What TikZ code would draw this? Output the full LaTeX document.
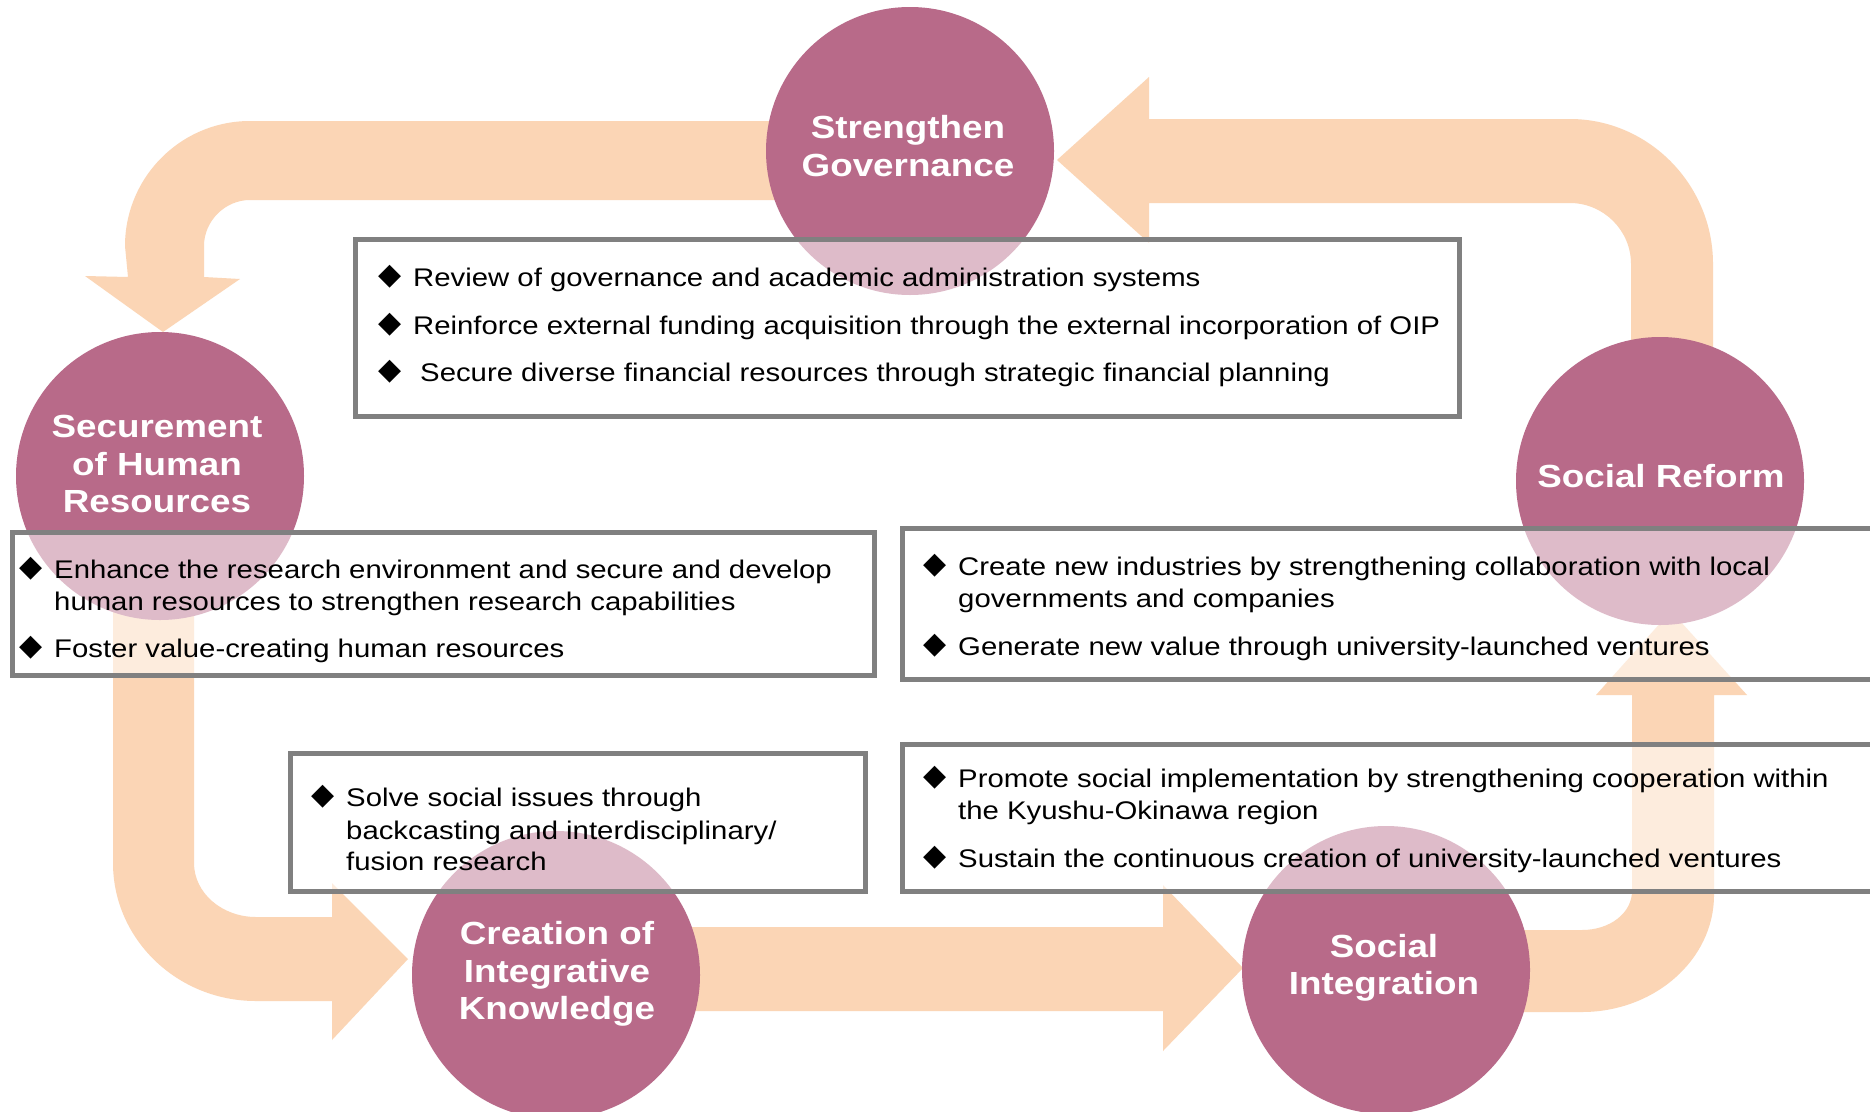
\documentclass[tikz,border=0pt]{standalone}
\usepackage{fontspec}
\setmainfont{Liberation Sans}[FakeStretch=1.15]
\newfontfamily\symfont{DejaVu Sans}
\definecolor{circc}{RGB}{184,106,137}
\definecolor{arrowc}{RGB}{251,213,181}
\definecolor{boxgray}{RGB}{128,128,128}
\begin{document}
\begin{tikzpicture}[x=1pt,y=-1pt,
  blockarrow/.style={fill=arrowc,draw=none},
  circ/.style={circle,fill=circc,draw=none,minimum size=288pt,inner sep=0pt},
  infobox/.style={rectangle,draw=boxgray,line width=5pt,fill=white,fill opacity=0.55,inner sep=0pt,anchor=north west},
  item/.style={font=\fontsize{25.5}{32}\selectfont,inner sep=0pt,anchor=base west,text=black},
  dia/.style={font=\symfont\fontsize{30}{30}\selectfont,inner sep=0pt,text=black},
  lbl/.style={font=\bfseries\fontsize{32}{37.5}\selectfont,text=white,align=center,inner sep=0pt}]
\useasboundingbox (0,0) rectangle (1870,1111);
\fill[white] (0,0) rectangle (1870,1111);

% block arrows
% A: Strengthen Governance -> Securement of Human Resources
\path[blockarrow] (910,121) -- (250,121)
  .. controls (181,121) and (125,177) .. (125,246)
  -- (128,277) -- (85,276) -- (163,332) -- (240,279) -- (204,277) -- (204,246)
  .. controls (204,221) and (225,200) .. (250,200) -- (910,200) -- cycle;
% B: Social Reform -> Strengthen Governance
\path[blockarrow] (1057,160) -- (1149,77) -- (1149,119) -- (1570,119)
  .. controls (1648,119) and (1713,184) .. (1713,264)
  -- (1713,481) -- (1631,481) -- (1631,264)
  .. controls (1631,230) and (1603,203) .. (1570,203)
  -- (1149,203) -- (1149,243) -- cycle;
% C: Securement -> Creation of Integrative Knowledge
\path[blockarrow] (113,476) -- (113,863)
  .. controls (113,939) and (177,1001) .. (256,1001)
  -- (332,1001) -- (332,1040) -- (408,959) -- (332,883) -- (332,917) -- (256,917)
  .. controls (222,917) and (194,893) .. (194,863)
  -- (194,476) -- cycle;
% D: Creation -> Social Integration
\path[blockarrow] (556,927) -- (1163,927) -- (1163,885) -- (1243,968)
  -- (1163,1051) -- (1163,1011) -- (556,1011) -- cycle;
% E: Social Integration -> Social Reform
\path[blockarrow] (1386,930) -- (1582,930)
  .. controls (1610,930) and (1632,913) .. (1632,891)
  -- (1632,695) -- (1596,695) -- (1671,611) -- (1747,695) -- (1714,695) -- (1714,895)
  .. controls (1714,960) and (1654,1012) .. (1582,1012)
  -- (1386,1012) -- cycle;

% circles
\node[circ] (gov) at (910,151) {};
\node[circ] (hum) at (160,476) {};
\node[circ] (ref) at (1660,481) {};
\node[circ] (cre) at (556,975) {};
\node[circ] (int) at (1386,970) {};

% boxes
\node[infobox,minimum width=1104pt,minimum height=177pt] (b1) at (353,237) {};
\node[infobox,minimum width=862pt,minimum height=143pt] (b2) at (10,530) {};
\node[infobox,minimum width=1000pt,minimum height=151pt] (b3) at (900,526) {};
\node[infobox,minimum width=575pt,minimum height=138pt] (b4) at (288,751) {};
\node[infobox,minimum width=1000pt,minimum height=147pt] (b5) at (900,742) {};

% circle labels
\node[lbl] (lgov) at (908,146) {Strengthen\\Governance};
\node[lbl] (lhum) at (157,464) {Securement\\of Human\\Resources};
\node[lbl] (lref) at (1661,476) {Social Reform};
\node[lbl] (lcre) at (557,974) {Creation of\\Integrative\\Knowledge};
\node[lbl] (lint) at (1384,968) {Social\\Integration};

% box 1
\node[dia] (d11) at (390,277) {◆};
\node[item] (t11) at (413,286) {Review of governance and academic administration systems};
\node[dia] (d12) at (390,325) {◆};
\node[item] (t12) at (413,334) {Reinforce external funding acquisition through the external incorporation of OIP};
\node[dia] (d13) at (390,372) {◆};
\node[item] (t13) at (420,381) {Secure diverse financial resources through strategic financial planning};

% box 2
\node[dia] (d21) at (31,569) {◆};
\node[item] (t21) at (54,578) {Enhance the research environment and secure and develop};
\node[item] (t22) at (54,610) {human resources to strengthen research capabilities};
\node[dia] (d22) at (31,648) {◆};
\node[item] (t23) at (54,657) {Foster value-creating human resources};

% box 3
\node[dia] (d31) at (935,566) {◆};
\node[item] (t31) at (958,575) {Create new industries by strengthening collaboration with local};
\node[item] (t32) at (958,607) {governments and companies};
\node[dia] (d32) at (935,646) {◆};
\node[item] (t33) at (958,655) {Generate new value through university-launched ventures};

% box 4
\node[dia] (d41) at (323,797) {◆};
\node[item] (t41) at (346,806) {Solve social issues through};
\node[item] (t42) at (346,839) {backcasting and interdisciplinary/};
\node[item] (t43) at (346,870) {fusion research};

% box 5
\node[dia] (d51) at (935,778) {◆};
\node[item] (t51) at (958,787) {Promote social implementation by strengthening cooperation within};
\node[item] (t52) at (958,819) {the Kyushu-Okinawa region};
\node[dia] (d52) at (935,858) {◆};
\node[item] (t53) at (958,867) {Sustain the continuous creation of university-launched ventures};
\end{tikzpicture}
\end{document}
